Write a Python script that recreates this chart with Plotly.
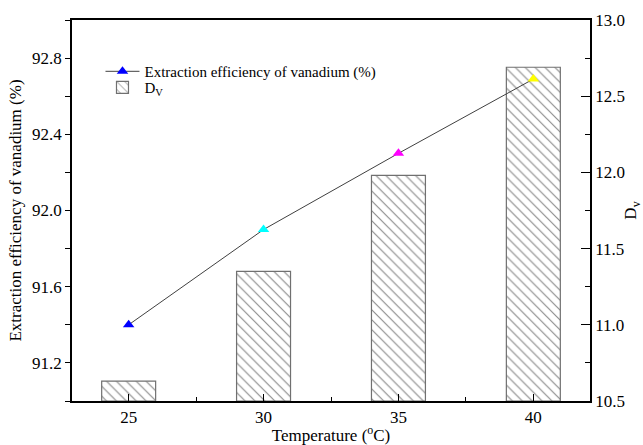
import plotly.graph_objects as go

temperature = [25, 30, 35, 40]
extraction = [91.4, 91.9, 92.3, 92.69]
dv = [10.63, 11.35, 11.98, 12.69]
marker_colors = ["#0000ff", "#00ffff", "#ff00ff", "#ffff00"]
dv_base = 10.5

font = "Liberation Serif"
tickfont = dict(family=font, size=17, color="black")

fig = go.Figure()

fig.add_trace(go.Scatter(
    x=temperature, y=extraction, yaxis="y2",
    mode="lines+markers",
    name="Extraction efficiency of vanadium (%)",
    line=dict(color="#404040", width=1),
    marker=dict(symbol="triangle-up", size=10, color=marker_colors),
    legend="legend",
))

fig.add_trace(go.Bar(
    x=temperature, y=[v - dv_base for v in dv], base=dv_base, yaxis="y", width=2,
    name="D<sub>V</sub>",
    marker=dict(color="white", line=dict(color="#707070", width=1.2),
                pattern=dict(shape="\\", fgcolor="#111111", bgcolor="white",
                             size=7, solidity=0.16)),
    legend="legend2",
))

leg_common = dict(xanchor="left", yanchor="top", bgcolor="rgba(0,0,0,0)",
                  font=dict(family=font, size=15, color="black"), itemwidth=34)

fig.update_layout(
    width=643, height=445,
    margin=dict(l=72, r=53, t=20, b=44),
    plot_bgcolor="white", paper_bgcolor="white",
    font=dict(family=font, size=17, color="black"),
    showlegend=True,
    legend=dict(x=0.055, y=0.908, **leg_common),
    legend2=dict(x=0.055, y=0.866, **leg_common),
    xaxis=dict(
        range=[22.9, 42.1], tickvals=[25, 30, 35, 40], tickfont=tickfont,
        showline=True, linecolor="black", linewidth=1.5, mirror=True,
        ticks="inside", ticklen=7, tickcolor="black",
        minor=dict(dtick=2.5, tick0=25, ticks="inside", ticklen=4, tickcolor="black"),
        showgrid=False, zeroline=False, automargin=False,
        title=dict(text="Temperature (<sup>o</sup>C)", standoff=0, font=dict(family=font, size=17)),
    ),
    yaxis=dict(
        side="right", range=[10.5, 13.0], dtick=0.5, tick0=10.5, tickformat=".1f", tickfont=tickfont,
        showline=True, linecolor="black", linewidth=1.5,
        ticks="inside", ticklen=9, tickcolor="black",
        minor=dict(dtick=0.25, ticks="inside", ticklen=5, tickcolor="black"),
        showgrid=False, zeroline=False, automargin=False,
        title=dict(text="D<sub>v</sub>", standoff=8, font=dict(family=font, size=17)),
    ),
    yaxis2=dict(
        side="left", overlaying="y", range=[91.0, 93.0], dtick=0.4, tick0=91.2, tickformat=".1f", tickfont=tickfont,
        showline=True, linecolor="black", linewidth=1.5,
        ticks="outside", ticklen=5, tickcolor="black",
        minor=dict(dtick=0.2, tick0=91.0, ticks="outside", ticklen=5, tickcolor="black"),
        showgrid=False, zeroline=False, automargin=False,
        title=dict(text="Extraction efficiency of vanadium (%)", standoff=6, font=dict(family=font, size=17)),
    ),
)

fig.write_html("out.html")
